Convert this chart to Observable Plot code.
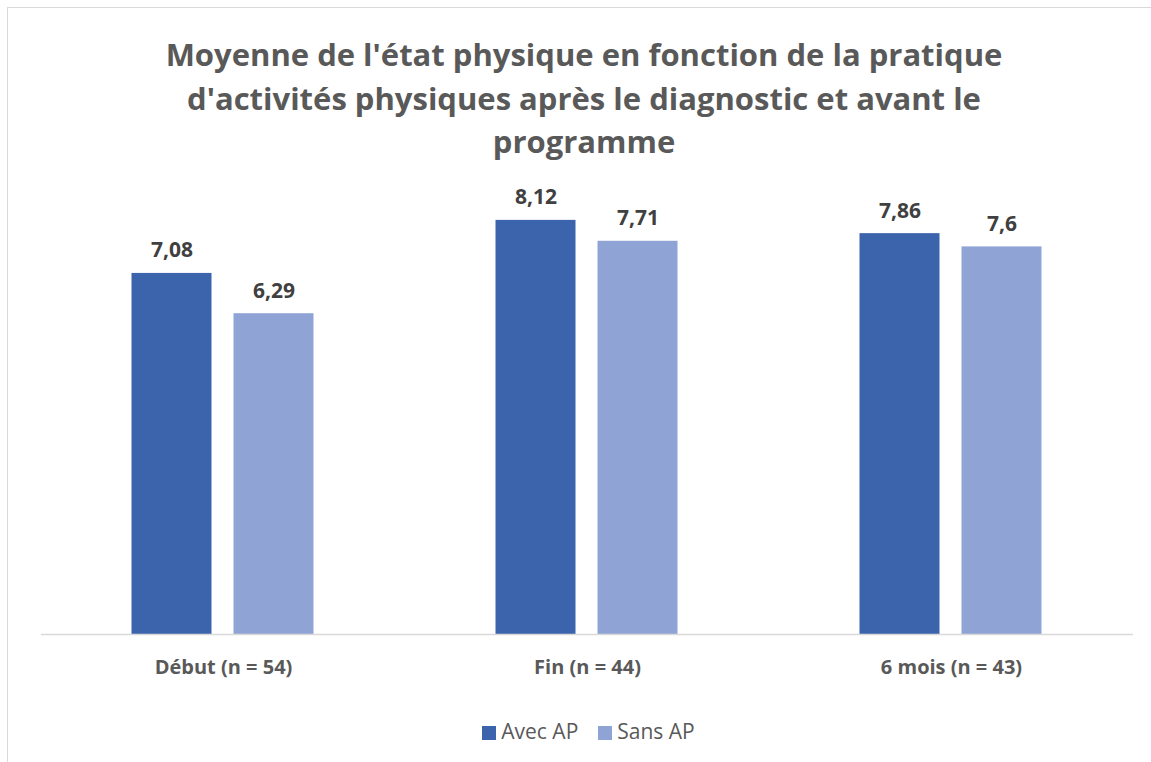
<!DOCTYPE html>
<html>
<head>
<meta charset="utf-8">
<script src="https://cdn.jsdelivr.net/npm/d3@7"></script>
<script src="https://cdn.jsdelivr.net/npm/@observablehq/plot@0.6"></script>
<style>
  html, body { margin: 0; padding: 0; background: #fff; }
  #wrap { position: relative; width: 1151px; height: 762px; overflow: hidden; font-family: "Open Sans", "Lato", sans-serif; }
  #frame { position: absolute; left: 7px; top: 7px; width: 1160px; height: 780px; border: 1.5px solid #D9D9D9; box-sizing: border-box; }
  #title { position: absolute; left: 0; width: 1168px; top: 33px; text-align: center; font-weight: 700; font-size: 31px; line-height: 43.5px; color: #595959; }
  #chart { position: absolute; left: 0; top: 150px; }
  #legend { position: absolute; left: 0; width: 1177px; top: 716px; text-align: center; font-size: 21px; line-height: 30px; color: #595959; }
  .sw { display: inline-block; width: 14px; height: 14px; margin-right: 5px; vertical-align: -1px; }
  .item { display: inline-block; margin: 0 10px; }
</style>
</head>
<body>
<div id="wrap">
  <div id="frame"></div>
  <div id="title"></div>
  <div id="chart"></div>
  <div id="legend"></div>
</div>
<script>
const titleLines = [
  "Moyenne de l'état physique en fonction de la pratique",
  "d'activités physiques après le diagnostic et avant le",
  "programme"
];
const categories = ["Début (n = 54)", "Fin (n = 44)", "6 mois (n = 43)"];
const series = ["Avec AP", "Sans AP"];
const avecAP = [7.08, 8.12, 7.86];
const sansAP = [6.29, 7.71, 7.6];
const colors = ["#3B64AD", "#8FA4D5"];

const data = [];
categories.forEach((c, i) => {
  data.push({cat: c, series: series[0], value: avecAP[i]});
  data.push({cat: c, series: series[1], value: sansAP[i]});
});

document.getElementById("title").innerHTML = titleLines.map(t => t.replace(/&/g, "&amp;")).join("<br>");

const fmt = v => String(v).replace(".", ",");

const chart = Plot.plot({
  width: 1151,
  height: 545,
  marginLeft: 39.5,
  marginRight: 17.5,
  marginTop: 25,
  marginBottom: 61,
  style: { fontFamily: "'Open Sans', Lato, sans-serif", background: "transparent", overflow: "visible" },
  fx: { domain: categories, padding: 0, label: null, axis: "bottom", tickSize: 0, tickPadding: 25 },
  x: { domain: series, paddingInner: 0.2136, paddingOuter: 0.8786, axis: null },
  y: { domain: [0, 9], axis: null },
  color: { domain: series, range: colors },
  marks: [
    Plot.barY(data, { fx: "cat", x: "series", y: "value", fill: "series" }),
    Plot.ruleY([0], { stroke: "#D9D9D9", strokeWidth: 1.5 }),
    Plot.text(data, { fx: "cat", x: "series", y: "value", text: d => fmt(d.value), lineAnchor: "bottom", dy: -16, fontSize: 21, fontWeight: 700, fill: "#404040" })
  ]
});
chart.querySelectorAll("[aria-label='fx-axis tick label']").forEach(g => {
  g.setAttribute("font-weight", "700");
  g.setAttribute("font-size", "20");
  g.setAttribute("fill", "#595959");
  g.querySelectorAll("text").forEach(t => {
    t.setAttribute("font-weight", "700");
    t.setAttribute("font-size", "20");
    t.setAttribute("fill", "#595959");
  });
});
document.getElementById("chart").appendChild(chart);

const legend = document.getElementById("legend");
series.forEach((s, i) => {
  const item = document.createElement("span");
  item.className = "item";
  const sw = document.createElement("span");
  sw.className = "sw";
  sw.style.background = colors[i];
  item.appendChild(sw);
  item.appendChild(document.createTextNode(s));
  legend.appendChild(item);
});
</script>
</body>
</html>
